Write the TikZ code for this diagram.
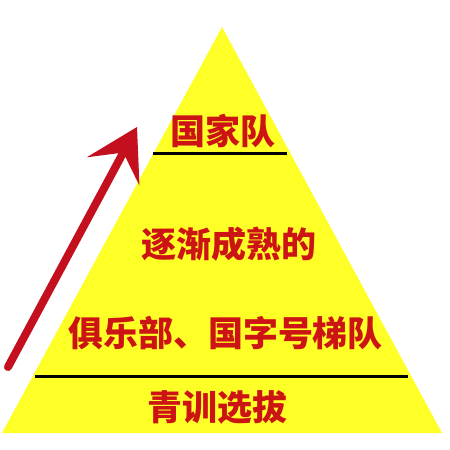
\documentclass[tikz,border=0pt]{standalone}
\usepackage{fontspec}
\newfontfamily\cjk{Noto Sans CJK SC}
\usetikzlibrary{arrows.meta}
\definecolor{pyryellow}{RGB}{255,255,40}
\definecolor{txtred}{RGB}{205,20,20}
\definecolor{arrred}{RGB}{195,15,30}
\tikzset{
  lvltext/.style={font=\cjk\bfseries\fontsize{35}{35}\selectfont, text=txtred, inner sep=0pt},
  lvlline/.style={line width=3pt, black},
  uparrow/.style={line width=8pt, arrred, line cap=round, -{Stealth[length=50pt,width=59pt,inset=21pt]}}
}
\begin{document}
\begin{tikzpicture}[x=1pt,y=-1pt]
\useasboundingbox (0,0) rectangle (450,450);
\fill[white] (0,0) rectangle (450,450);
\fill[pyryellow] (222,27) -- (442,433) -- (2,433) -- cycle;
\draw[lvlline] (153,153) -- (287,153);
\draw[lvlline] (35,376) -- (408,376);
\node[lvltext] (top) at (222.5,131.5) {国家队};
\node[lvltext] (mid1) at (228.5,244.5) {逐渐成熟的};
\node[lvltext] (mid2) at (225.5,333) {俱乐部、国字号梯队};
\node[lvltext] (base) at (217,407.5) {青训选拔};
\coordinate (tail) at (8,367);
\coordinate (tip) at (137,127);
\draw[uparrow] (tail) -- (tip);
\end{tikzpicture}
\end{document}
